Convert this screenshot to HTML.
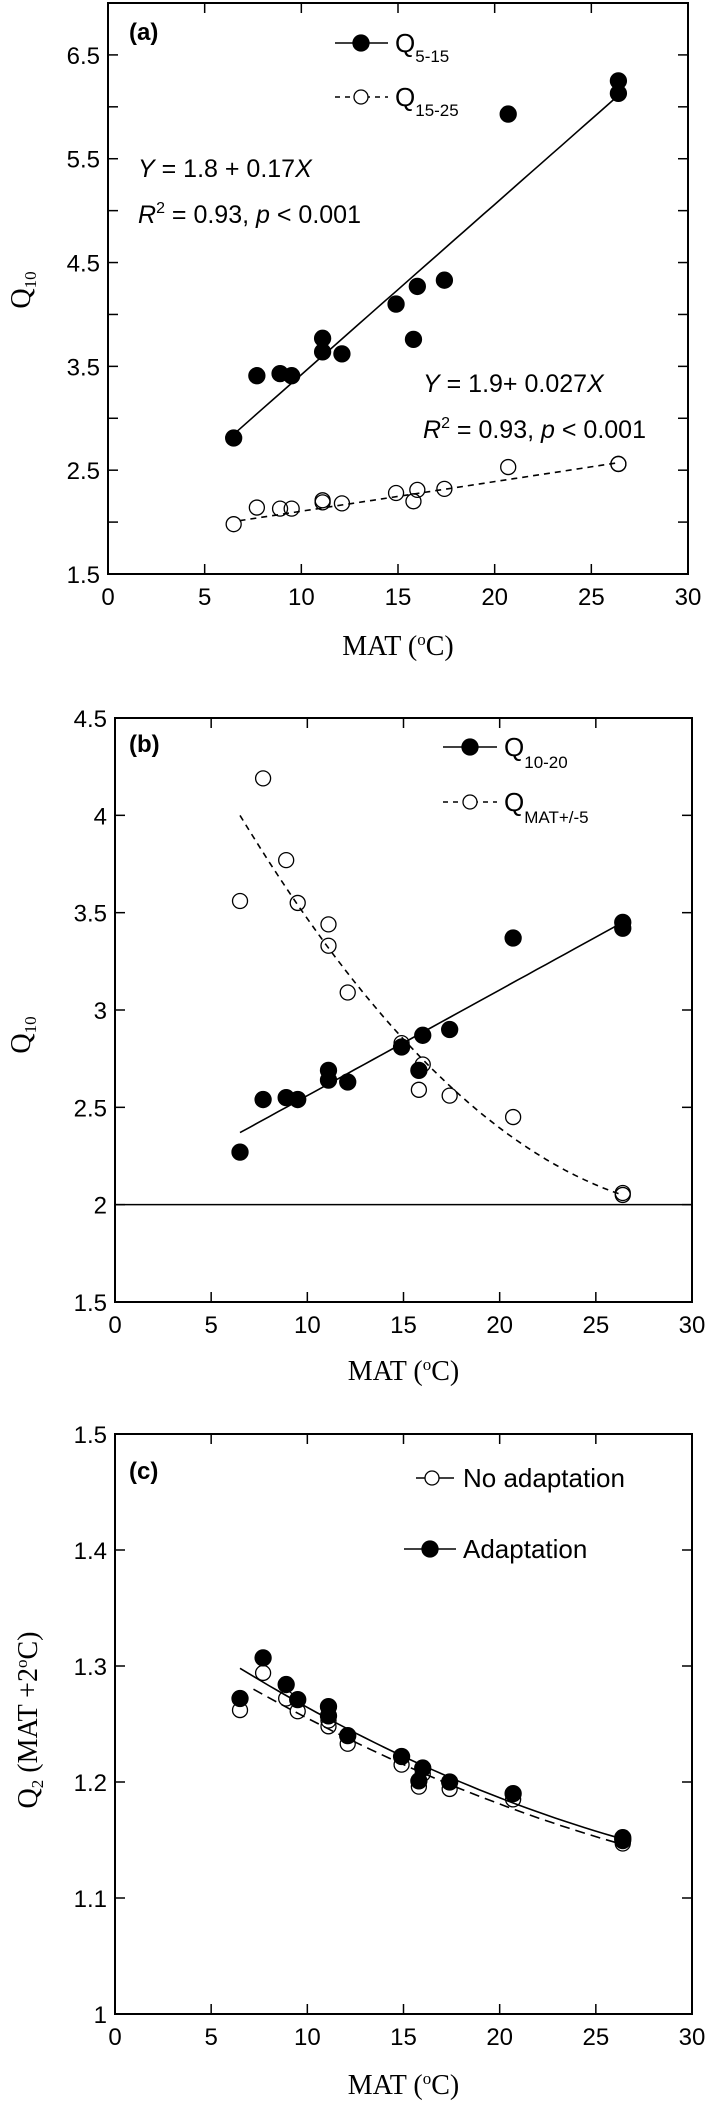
<!DOCTYPE html>
<html><head><meta charset="utf-8">
<style>
html,body{margin:0;padding:0;background:#fff;}
svg{display:block;}
text{font-family:"Liberation Sans",Arial,sans-serif;fill:#000;}
.serif{font-family:"Liberation Serif","Times New Roman",serif;}
</style></head>
<body>
<svg id="fig" width="709" height="2104" viewBox="0 0 709 2104" xmlns="http://www.w3.org/2000/svg"></svg>
<script>
// ---- shared data ----
const matX = [6.5, 7.7, 8.9, 9.5, 11.1, 11.1, 12.1, 14.9, 15.8, 16.0, 17.4, 20.7, 26.4, 26.4];
const xTicks = [0, 5, 10, 15, 20, 25, 30];
// panel a
const aQ515 = [2.81, 3.41, 3.43, 3.41, 3.77, 3.64, 3.62, 4.10, 3.76, 4.27, 4.33, 5.93, 6.25, 6.13];
const aQ1525 = [1.98, 2.14, 2.13, 2.13, 2.21, 2.19, 2.18, 2.28, 2.20, 2.31, 2.32, 2.53, 2.56, 2.56];
const aFitSolid = [1.78, 0.164, 0];
const aFitDash = [1.82, 0.0285, 0];
const aYTicks = [1.5, 2, 2.5, 3, 3.5, 4, 4.5, 5, 5.5, 6, 6.5, 7];
const aYLabels = ["1.5", "", "2.5", "", "3.5", "", "4.5", "", "5.5", "", "6.5", ""];
// panel b
const bQ1020 = [2.27, 2.54, 2.55, 2.54, 2.69, 2.64, 2.63, 2.81, 2.69, 2.87, 2.90, 3.37, 3.45, 3.42];
const bQmat = [3.56, 4.19, 3.77, 3.55, 3.44, 3.33, 3.09, 2.83, 2.59, 2.72, 2.56, 2.45, 2.06, 2.05];
const bFitSolid = [2.017, 0.0543, 0];
const bFitDash = [5.198, -0.2056, 0.00327];
const bYTicks = [1.5, 2, 2.5, 3, 3.5, 4, 4.5];
const bYLabels = ["1.5", "2", "2.5", "3", "3.5", "4", "4.5"];
// panel c
const cAdapt = [1.272, 1.307, 1.284, 1.271, 1.265, 1.257, 1.240, 1.222, 1.201, 1.212, 1.200, 1.190, 1.152, 1.150];
const cNoAdapt = [1.262, 1.294, 1.272, 1.261, 1.248, 1.253, 1.233, 1.215, 1.196, 1.207, 1.194, 1.185, 1.147, 1.149];
const cFitSolid = [1.3694, -0.01187, 0.000136];
const cFitDash = [1.3528, -0.01097, 0.000119];
const cYTicks = [1.0, 1.1, 1.2, 1.3, 1.4, 1.5];
const cYLabels = ["1", "1.1", "1.2", "1.3", "1.4", "1.5"];

const NS = "http://www.w3.org/2000/svg";
const svg = document.getElementById("fig");
function mk(tag, attrs, parent) {
  const e = document.createElementNS(NS, tag);
  for (const k in attrs) e.setAttribute(k, attrs[k]);
  (parent || svg).appendChild(e);
  return e;
}

function panel(cfg) {
  const g = mk("g", {});
  
  
  const L = cfg.L, R = cfg.R, T = cfg.T, B = cfg.B;
  const sx = v => L + (v - 0) / 30 * (R - L);
  const sy = v => B - (v - cfg.ymin) / (cfg.ymax - cfg.ymin) * (B - T);
  const fr = mk("rect", {x: L, y: T, width: R - L, height: B - T, fill: "none", stroke: "#000", "stroke-width": 2}, g);
  
  
  xTicks.forEach(v => {
    const x = sx(v);
    mk("line", {x1: x, y1: B, x2: x, y2: B - 10, stroke: "#000", "stroke-width": 1.5}, g);
    mk("line", {x1: x, y1: T, x2: x, y2: T + 10, stroke: "#000", "stroke-width": 1.5}, g);
    const t = mk("text", {x: x, y: B + 31, "font-size": 24, "text-anchor": "middle"}, g);
    t.textContent = String(v);
    
    
  });
  cfg.yTicks.forEach((v, i) => {
    const y = sy(v);
    mk("line", {x1: L, y1: y, x2: L + 10, y2: y, stroke: "#000", "stroke-width": 1.5}, g);
    mk("line", {x1: R, y1: y, x2: R - 10, y2: y, stroke: "#000", "stroke-width": 1.5}, g);
    if (cfg.yLabels[i]) {
      const t = mk("text", {x: L - 8, y: y + 9, "font-size": 24, "text-anchor": "end"}, g);
      t.textContent = cfg.yLabels[i];
      
      
    }
  });
  if (cfg.refLine !== undefined) {
    const rl = mk("line", {x1: L, y1: sy(cfg.refLine), x2: R, y2: sy(cfg.refLine), stroke: "#000", "stroke-width": 1.5}, g);
    
    
  }
  cfg.fits.forEach(f => {
    let d = "";
    for (let k = 0; k <= 40; k++) {
      const xv = f.x0 + (f.x1 - f.x0) * k / 40;
      const yv = f.c[0] + f.c[1] * xv + f.c[2] * xv * xv;
      d += (k ? "L" : "M") + sx(xv).toFixed(1) + "," + sy(yv).toFixed(1);
    }
    const p = mk("path", {d: d, fill: "none", stroke: "#000", "stroke-width": 1.6, "stroke-dasharray": f.dash || "none"}, g);
    
    
  });
  cfg.series.forEach(s => {
    s.vals.forEach((v, i) => {
      const c = mk("circle", {cx: sx(matX[i]), cy: sy(v), r: s.filled ? 8 : 7.5, fill: s.filled ? "#000" : "#fff", "fill-opacity": s.filled ? 1 : 0, stroke: "#000", "stroke-width": 1.3}, g);
      
      
    });
  });
  const xt = mk("text", {x: (L + R) / 2, y: cfg.xTitleY, "font-size": 28, "text-anchor": "middle", class: "serif"}, g);
  xt.innerHTML = 'MAT (<tspan dy="-10" font-size="17">o</tspan><tspan dy="10">C)</tspan>';
  
  
  const yt = mk("text", {x: 0, y: 0, "font-size": 28, "text-anchor": "middle", class: "serif", transform: "translate(" + cfg.yTitleX + "," + cfg.yTitleY + ") rotate(-90)"}, g);
  yt.innerHTML = cfg.yTitle;
  
  
  const pl = mk("text", {x: 129, y: cfg.labelY, "font-size": 24, "font-weight": "bold"}, g);
  pl.textContent = cfg.label;
  
  
  return g;
}

function legendEntry(g, x1, x2, cx, cy, filled, dash, tx, html, fs) {
  const e = mk("g", {}, g);
  
  
  mk("line", {x1: x1, y1: cy, x2: x2, y2: cy, stroke: "#000", "stroke-width": 1.6, "stroke-dasharray": dash || "none"}, e);
  mk("circle", {cx: cx, cy: cy, r: filled ? 8 : 7, fill: filled ? "#000" : "#fff", stroke: "#000", "stroke-width": 1.3}, e);
  const t = mk("text", {x: tx, y: cy + 9, "font-size": fs}, e);
  t.innerHTML = html;
}

const ga = panel({name: "panel-a", L: 108, R: 688, T: 3, B: 574, ymin: 1.5, ymax: 7.0,
  yTicks: aYTicks, yLabels: aYLabels, xTitleY: 655, yTitleX: 30, yTitleY: 290,
  yTitle: 'Q<tspan dy="6" font-size="17">10</tspan>', label: "(a)", labelY: 40,
  fits: [{name: "fit-q5-15", c: aFitSolid, x0: 6.5, x1: 26.4},
         {name: "fit-q15-25", c: aFitDash, x0: 6.8, x1: 26.4, dash: "6,5"}],
  series: [{name: "point-q15-25", vals: aQ1525, filled: false},
           {name: "point-q5-15", vals: aQ515, filled: true}]});
legendEntry(ga, 335, 388, 361, 43, true, null, 395, 'Q<tspan dy="10" font-size="17">5-15</tspan>', 26);
legendEntry(ga, 335, 388, 361, 97, false, "5,5", 395, 'Q<tspan dy="10" font-size="17">15-25</tspan>', 26);
let t;
t = mk("text", {x: 138, y: 177, "font-size": 25}, ga);
t.innerHTML = '<tspan font-style="italic">Y</tspan> = 1.8 + 0.17<tspan font-style="italic">X</tspan>';


t = mk("text", {x: 138, y: 223, "font-size": 25}, ga);
t.innerHTML = '<tspan font-style="italic">R</tspan><tspan dy="-10" font-size="16">2</tspan><tspan dy="10"> = 0.93, </tspan><tspan font-style="italic">p</tspan> &lt; 0.001';


t = mk("text", {x: 423, y: 392, "font-size": 25}, ga);
t.innerHTML = '<tspan font-style="italic">Y</tspan> = 1.9+ 0.027<tspan font-style="italic">X</tspan>';


t = mk("text", {x: 423, y: 438, "font-size": 25}, ga);
t.innerHTML = '<tspan font-style="italic">R</tspan><tspan dy="-10" font-size="16">2</tspan><tspan dy="10"> = 0.93, </tspan><tspan font-style="italic">p</tspan> &lt; 0.001';



const gb = panel({name: "panel-b", L: 115, R: 692, T: 718, B: 1302, ymin: 1.5, ymax: 4.5,
  yTicks: bYTicks, yLabels: bYLabels, xTitleY: 1380, yTitleX: 30, yTitleY: 1035,
  yTitle: 'Q<tspan dy="6" font-size="17">10</tspan>', label: "(b)", labelY: 752, refLine: 2,
  fits: [{name: "fit-q10-20", c: bFitSolid, x0: 6.5, x1: 26.4},
         {name: "fit-qmat", c: bFitDash, x0: 6.5, x1: 26.4, dash: "6,5"}],
  series: [{name: "point-qmat", vals: bQmat, filled: false},
           {name: "point-q10-20", vals: bQ1020, filled: true}]});
legendEntry(gb, 443, 497, 470, 747, true, null, 504, 'Q<tspan dy="12" font-size="17">10-20</tspan>', 26);
legendEntry(gb, 443, 497, 470, 802, false, "5,5", 504, 'Q<tspan dy="12" font-size="17">MAT+/-5</tspan>', 26);

const gc = panel({name: "panel-c", L: 115, R: 692, T: 1434, B: 2014, ymin: 1.0, ymax: 1.5,
  yTicks: cYTicks, yLabels: cYLabels, xTitleY: 2094, yTitleX: 37, yTitleY: 1720,
  yTitle: 'Q<tspan dy="6" font-size="17">2</tspan><tspan dy="-6"> (MAT +2</tspan><tspan dy="-10" font-size="17">o</tspan><tspan dy="10">C)</tspan>',
  label: "(c)", labelY: 1479,
  fits: [{name: "fit-adaptation", c: cFitSolid, x0: 6.5, x1: 26.4},
         {name: "fit-no-adaptation", c: cFitDash, x0: 7.2, x1: 26.0, dash: "10,6"}],
  series: [{name: "point-no-adaptation", vals: cNoAdapt, filled: false},
           {name: "point-adaptation", vals: cAdapt, filled: true}]});
legendEntry(gc, 416, 454, 432, 1478, false, null, 463, 'No adaptation', 26);
legendEntry(gc, 404, 456, 430, 1549, true, null, 463, 'Adaptation', 26);
</script>
</body></html>
